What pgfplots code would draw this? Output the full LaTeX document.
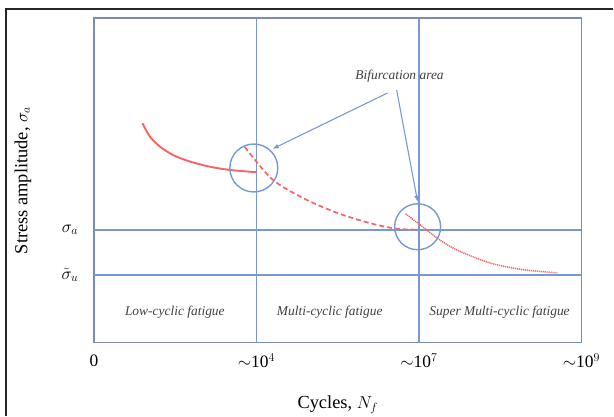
\documentclass[border=0pt]{standalone}
\usepackage{pgfplots}
\pgfplotsset{compat=1.18}
\usepackage{fontspec}
\setmainfont{Liberation Serif}
\usetikzlibrary{arrows.meta}
\definecolor{bl}{RGB}{120,152,212}
\definecolor{rd}{RGB}{248,100,100}
\definecolor{fr}{RGB}{120,140,182}
\begin{document}
\begin{tikzpicture}
\begin{axis}[
  scale only axis, width=488bp, height=325bp,
  xmin=0, xmax=3, ymin=0, ymax=10,
  axis line style={fr, line width=1.6bp},
  xtick={0,1,2,3},
  xticklabels={0,$\sim$10$^{4}$,$\sim$10$^{7}$,$\sim$10$^{9}$},
  ytick={3.48,2.09},
  yticklabels={$\sigma_a$,$\tilde{\sigma}_u$},
  major tick length=0pt,
  tick label style={font=\fontsize{17.5}{19}\selectfont},
  xticklabel style={anchor=center, yshift=-18bp},
  yticklabel style={anchor=center, xshift=-24bp},
  xlabel={Cycles, $N_f$},
  ylabel={Stress amplitude, $\sigma_a$},
  label style={font=\fontsize{18.5}{20}\selectfont},
  xlabel style={at={(axis description cs:0.5,-0.1908)}, anchor=center},
  ylabel style={at={(axis description cs:-0.1455,0.5)}, anchor=center},
  clip=false,
]
% grid-like lines
\addplot[bl, line width=1.7bp] coordinates {(1,0) (1,10)};
\addplot[bl, line width=1.7bp] coordinates {(2,0) (2,10)};
\addplot[bl, line width=1.7bp] coordinates {(0,3.48) (3,3.48)};
\addplot[bl, line width=1.7bp] coordinates {(0,2.09) (3,2.09)};
% low-cycle curve
\addplot[rd, line width=1.9bp, smooth] coordinates {
 (0.299,6.76) (0.344,6.35) (0.406,6.04) (0.487,5.78) (0.590,5.58) (0.713,5.42) (0.836,5.32) (1.000,5.25)};
% multi-cycle dashed
\addplot[rd, line width=1.7bp, smooth, dash pattern=on 5bp off 3bp] coordinates {
 (0.928,6.03) (1.100,5.02) (1.309,4.40) (1.512,3.97) (1.715,3.66) (1.863,3.51) (1.992,3.48)};
% super multi-cycle dotted
\addplot[rd, line width=1.5bp, smooth, dash pattern=on 1.2bp off 0.8bp] coordinates {
 (1.918,3.97) (2.022,3.57) (2.127,3.17) (2.232,2.86) (2.434,2.46) (2.637,2.25) (2.852,2.15)};
% circles
\draw[bl, line width=1.4bp] (axis cs:0.984,5.38) circle[radius=24bp];
\draw[bl, line width=1.4bp] (axis cs:1.992,3.57) circle[radius=23bp];
% arrows
\draw[bl, line width=1.1bp, -{Latex[length=6bp,width=5bp]}] (axis cs:1.807,7.69) -- (axis cs:1.100,5.97);
\draw[bl, line width=1.1bp, -{Latex[length=6bp,width=5bp]}] (axis cs:1.863,7.78) -- (axis cs:1.992,4.34);
\node[font=\fontsize{13.5}{15}\selectfont\itshape, text=black!75] at (axis cs:1.881,8.22) {Bifurcation area};
\node[font=\fontsize{13.5}{15}\selectfont\itshape, text=black!75] at (axis cs:0.498,0.95) {Low-cyclic fatigue};
\node[font=\fontsize{13.5}{15}\selectfont\itshape, text=black!75] at (axis cs:1.451,0.95) {Multi-cyclic fatigue};
\node[font=\fontsize{13.5}{15}\selectfont\itshape, text=black!75] at (axis cs:2.496,0.95) {Super Multi-cyclic fatigue};
\end{axis}
\draw[black!85, line width=1.2bp] (-88bp,-73bp) -- (-88bp,334bp) -- (520bp,334bp);
\useasboundingbox (-94bp,-73bp) rectangle (520bp,343bp);
\end{tikzpicture}
\end{document}
